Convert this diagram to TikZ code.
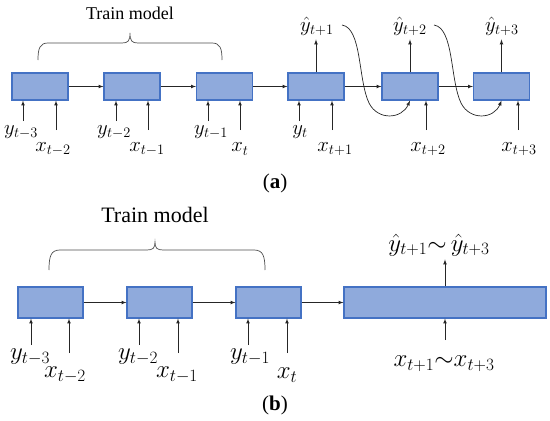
\documentclass[tikz,border=0pt]{standalone}
\usepackage{fontspec}
\setmainfont{Liberation Serif}
\usetikzlibrary{arrows, positioning, calc}
\definecolor{boxfill}{HTML}{8FAADC}
\definecolor{boxline}{HTML}{4472C4}

\tikzset{
  blk/.style={draw=boxline, fill=boxfill, line width=1.1pt, inner sep=0pt},
  flow/.style={->, >=latex, line width=0.7pt, black!85},
  brc/.style={line width=0.7pt, black!70},
  lbla/.style={inner sep=0pt, font=\fontsize{18}{20}\selectfont},
  lblb/.style={inner sep=0pt, font=\fontsize{22}{24}\selectfont},
  mtha/.style={inner sep=0pt, font=\fontsize{20}{22}\selectfont},
  mthb/.style={inner sep=0pt, font=\fontsize{24}{26}\selectfont},
}

\begin{document}
\begin{tikzpicture}[x=1pt, y=-1pt]
    \useasboundingbox (0,0) rectangle (550,421);

    % ---------- (a) one step at a time ----------
    \node[blk, minimum width=56pt, minimum height=27pt] (a1) at (40,86.5) {};
    \node[blk, minimum width=56pt, minimum height=27pt] (a2) at (132,86.5) {};
    \node[blk, minimum width=56pt, minimum height=27pt] (a3) at (224.5,86.5) {};
    \node[blk, minimum width=56pt, minimum height=27pt] (a4) at (316,86.5) {};
    \node[blk, minimum width=56pt, minimum height=27pt] (a5) at (410,86.5) {};
    \node[blk, minimum width=56pt, minimum height=27pt] (a6) at (501.5,86.5) {};

    \draw[flow] (a1) -- (a2);
    \draw[flow] (a2) -- (a3);
    \draw[flow] (a3) -- (a4);
    \draw[flow] (a4) -- (a5);
    \draw[flow] (a5) -- (a6);

    % feet of the input arrows
    \coordinate (ya1) at (23,121);  \coordinate (xa1) at (56,130);
    \coordinate (ya2) at (116,121); \coordinate (xa2) at (148,130);
    \coordinate (ya3) at (208,121); \coordinate (xa3) at (240,130);
    \coordinate (ya4) at (299,121); \coordinate (xa4) at (332,130);
    \coordinate (xa5) at (426,130);
    \coordinate (xa6) at (518,130);

    \draw[flow] (ya1) -- (ya1 |- a1.south);
    \draw[flow] (xa1) -- (xa1 |- a1.south);
    \draw[flow] (ya2) -- (ya2 |- a2.south);
    \draw[flow] (xa2) -- (xa2 |- a2.south);
    \draw[flow] (ya3) -- (ya3 |- a3.south);
    \draw[flow] (xa3) -- (xa3 |- a3.south);
    \draw[flow] (ya4) -- (ya4 |- a4.south);
    \draw[flow] (xa4) -- (xa4 |- a4.south);
    \draw[flow] (xa5) -- (xa5 |- a5.south);
    \draw[flow] (xa6) -- (xa6 |- a6.south);

    \node[mtha] (lya1) at (21,132) {$y_{t-3}$};
    \node[mtha] (lxa1) at (53,149) {$x_{t-2}$};
    \node[mtha] (lya2) at (114,132) {$y_{t-2}$};
    \node[mtha] (lxa2) at (147,149) {$x_{t-1}$};
    \node[mtha] (lya3) at (211,132) {$y_{t-1}$};
    \node[mtha] (lxa3) at (240,149) {$x_{t}$};
    \node[mtha] (lya4) at (300,132) {$y_{t}$};
    \node[mtha] (lxa4) at (335,149) {$x_{t+1}$};
    \node[mtha] (lxa5) at (428,149) {$x_{t+2}$};
    \node[mtha] (lxa6) at (519,149) {$x_{t+3}$};

    % outputs
    \node[mtha] (ha4) at (317,26) {$\hat{y}_{t+1}$};
    \node[mtha] (ha5) at (410,26) {$\hat{y}_{t+2}$};
    \node[mtha] (ha6) at (502,26) {$\hat{y}_{t+3}$};
    \draw[flow] (a4.north) -- ++(0,-33);
    \draw[flow] (a5.north) -- ++(0,-33);
    \draw[flow] (a6.north) -- ++(0,-33);

    % prediction fed back in
    \coordinate (fb1) at (342,25);
    \coordinate (fb2) at (434,25);
    \draw[flow] (fb1) .. controls (362,28) and (358,80) .. (369,103)
                      .. controls (378,121) and (402,119) .. (a5.south);
    \draw[flow] (fb2) .. controls (454,28) and (450,80) .. (461,103)
                      .. controls (470,121) and (494,119) .. (a6.south);

    % brace
    \draw[brc] (38,60) .. controls (38,48) and (40,43) .. (48,43) -- (122,43)
               .. controls (128,43) and (130,41) .. (130,33)
               .. controls (130,41) and (132,43) .. (138,43) -- (212,43)
               .. controls (220,43) and (222,48) .. (222,60);
    \node[lbla] (tma) at (130,13) {Train model};
    \node[inner sep=0pt, font=\fontsize{21}{23}\selectfont] (capa) at (275,183) {(\textbf{a})};

    % ---------- (b) all steps at once ----------
    \node[blk, minimum width=65pt, minimum height=31pt] (b1) at (50.5,302.5) {};
    \node[blk, minimum width=65pt, minimum height=31pt] (b2) at (159.5,302.5) {};
    \node[blk, minimum width=65pt, minimum height=31pt] (b3) at (268.5,302.5) {};
    \node[blk, minimum width=202pt, minimum height=31pt] (b4) at (445,302.5) {};

    \draw[flow] (b1) -- (b2);
    \draw[flow] (b2) -- (b3);
    \draw[flow] (b3) -- (b4);

    \coordinate (yb1) at (31,345);  \coordinate (xb1) at (69,353);
    \coordinate (yb2) at (139,345); \coordinate (xb2) at (178,353);
    \coordinate (yb3) at (248,345); \coordinate (xb3) at (287,353);
    \coordinate (xb4) at (445,340);

    \draw[flow] (yb1) -- (yb1 |- b1.south);
    \draw[flow] (xb1) -- (xb1 |- b1.south);
    \draw[flow] (yb2) -- (yb2 |- b2.south);
    \draw[flow] (xb2) -- (xb2 |- b2.south);
    \draw[flow] (yb3) -- (yb3 |- b3.south);
    \draw[flow] (xb3) -- (xb3 |- b3.south);
    \draw[flow] (xb4) -- (xb4 |- b4.south);

    \node[mthb] (lyb1) at (30,357) {$y_{t-3}$};
    \node[mthb] (lxb1) at (65,375) {$x_{t-2}$};
    \node[mthb] (lyb2) at (138,357) {$y_{t-2}$};
    \node[mthb] (lxb2) at (177,375) {$x_{t-1}$};
    \node[mthb] (lyb3) at (250,357) {$y_{t-1}$};
    \node[mthb] (lxb3) at (287,375) {$x_{t}$};
    \node[mthb] (lxb4) at (444,364) {$x_{t+1}{\sim}x_{t+3}$};

    \node[mthb] (hb4) at (439,245) {$\hat{y}_{t+1}{\sim}\,\hat{y}_{t+3}$};
    \draw[flow] (b4.north) -- ++(0,-27);

    \draw[brc] (49,270) .. controls (49,256) and (51,250) .. (60,250) -- (147,250)
               .. controls (153,250) and (155,248) .. (155,242)
               .. controls (155,248) and (157,250) .. (163,250) -- (254,250)
               .. controls (263,250) and (265,256) .. (265,270);
    \node[lblb] (tmb) at (155,215) {Train model};
    \node[inner sep=0pt, font=\fontsize{21}{23}\selectfont] (capb) at (275,405) {(\textbf{b})};
\end{tikzpicture}
\end{document}
